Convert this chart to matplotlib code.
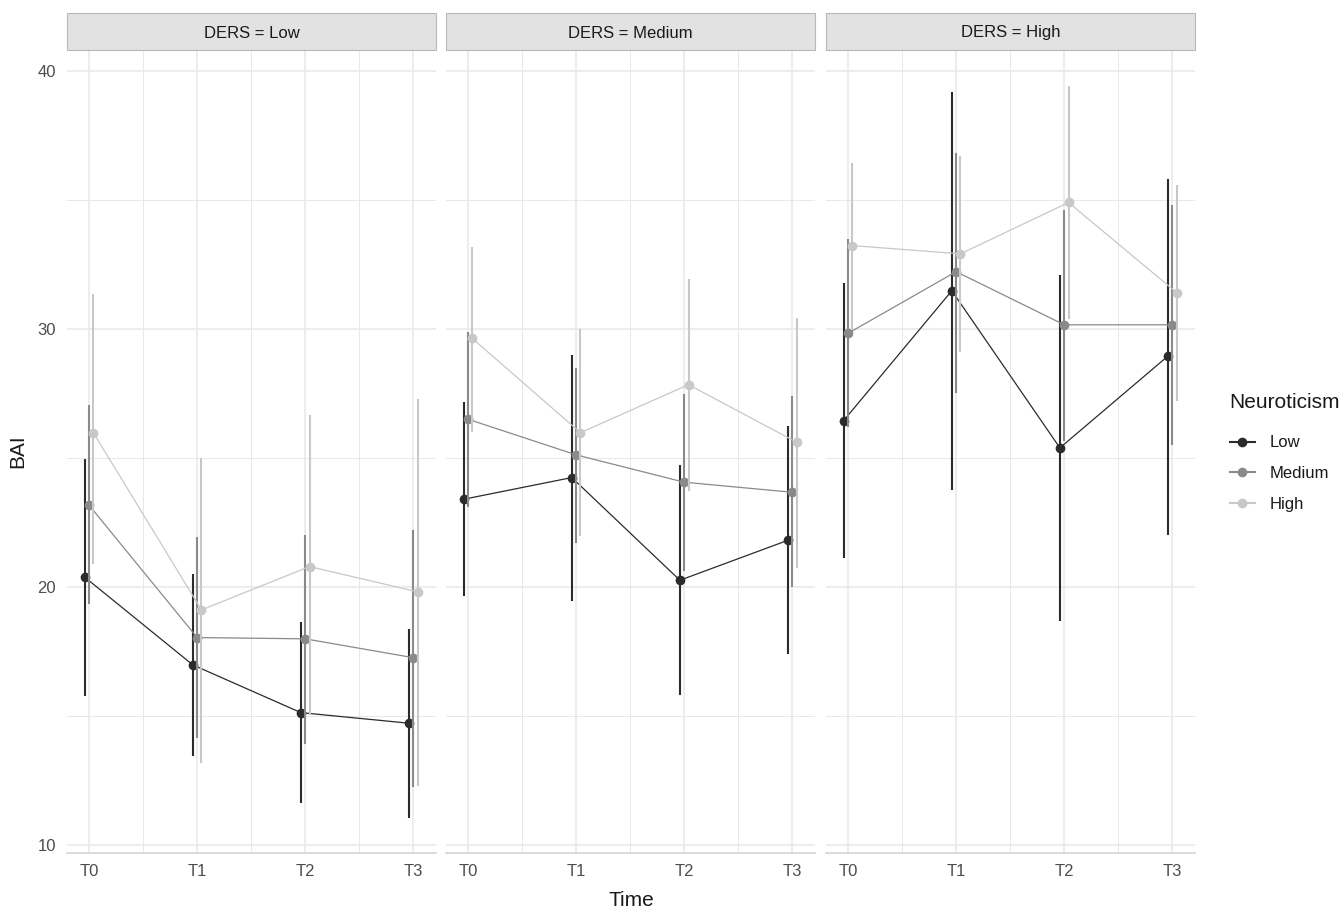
import numpy as np
import matplotlib
matplotlib.use("Agg")
import matplotlib.pyplot as plt
from matplotlib.lines import Line2D
from matplotlib.patches import Rectangle

plt.rcParams['font.family'] = ['Liberation Sans', 'DejaVu Sans']

# data (BAI means and CI bounds)
times = ["T0", "T1", "T2", "T3"]
ders_levels = ["Low", "Medium", "High"]
neuro_levels = ["Low", "Medium", "High"]

# DERS = Low
dl_low_mean = [20.38, 16.98, 15.13, 14.72]
dl_low_lo   = [15.78, 13.45, 11.64, 11.06]
dl_low_hi   = [24.94, 20.50, 18.64, 18.36]
dl_med_mean = [23.17, 18.04, 17.99, 17.26]
dl_med_lo   = [19.34, 14.13, 13.90, 12.26]
dl_med_hi   = [27.04, 21.92, 22.00, 22.21]
dl_high_mean = [25.98, 19.11, 20.79, 19.81]
dl_high_lo   = [20.90, 13.19, 15.04, 12.29]
dl_high_hi   = [31.36, 25.00, 26.65, 27.27]

# DERS = Medium
dm_low_mean = [23.40, 24.24, 20.26, 21.81]
dm_low_lo   = [19.65, 19.47, 15.81, 17.40]
dm_low_hi   = [27.15, 28.99, 24.73, 26.23]
dm_med_mean = [26.50, 25.12, 24.06, 23.67]
dm_med_lo   = [23.10, 21.69, 20.63, 20.01]
dm_med_hi   = [29.90, 28.49, 27.48, 27.41]
dm_high_mean = [29.63, 25.98, 27.84, 25.61]
dm_high_lo   = [26.02, 21.98, 23.70, 20.73]
dm_high_hi   = [33.16, 30.01, 31.93, 30.42]

# DERS = High
dh_low_mean = [26.45, 31.48, 25.39, 28.95]
dh_low_lo   = [21.11, 23.76, 18.69, 22.00]
dh_low_hi   = [31.79, 39.20, 32.09, 35.80]
dh_med_mean = [29.83, 32.22, 30.16, 30.16]
dh_med_lo   = [26.20, 27.53, 25.67, 25.50]
dh_med_hi   = [33.50, 36.81, 34.60, 34.81]
dh_high_mean = [33.23, 32.91, 34.90, 31.41]
dh_high_lo   = [29.96, 29.12, 30.38, 27.19]
dh_high_hi   = [36.45, 36.71, 39.40, 35.57]

panels = [
    [(dl_low_mean, dl_low_lo, dl_low_hi), (dl_med_mean, dl_med_lo, dl_med_hi), (dl_high_mean, dl_high_lo, dl_high_hi)],
    [(dm_low_mean, dm_low_lo, dm_low_hi), (dm_med_mean, dm_med_lo, dm_med_hi), (dm_high_mean, dm_high_lo, dm_high_hi)],
    [(dh_low_mean, dh_low_lo, dh_low_hi), (dh_med_mean, dh_med_lo, dh_med_hi), (dh_high_mean, dh_high_lo, dh_high_hi)],
]

colours = ["#2b2b2b", "#8a8a8a", "#c8c8c8"]
dodge = [-0.04, 0.0, 0.04]

W, H = 1344, 909
fig = plt.figure(figsize=(W / 100, H / 100), dpi=100)
fig.patch.set_facecolor("white")

# panel geometry in pixels
panel_left = [67, 446, 826]
panel_w = 369
panel_top, panel_bot = 50, 853
strip_top = 13

grid_col = "#e8e8e8"
x = np.arange(len(times))

for p in range(3):
    ax = fig.add_axes([panel_left[p] / W, 1 - panel_bot / H, panel_w / W, (panel_bot - panel_top) / H])
    ax.set_xlim(-0.204, 3.21)
    ax.set_ylim(9.69, 40.81)

    # grid
    for v in [15, 25, 35]:
        ax.axhline(v, color=grid_col, lw=0.7, zorder=0)
    for v in [10, 20, 30, 40]:
        ax.axhline(v, color=grid_col, lw=1.1, zorder=0)
    for v in [0.5, 1.5, 2.5]:
        ax.axvline(v, color=grid_col, lw=0.7, zorder=0)
    for v in x:
        ax.axvline(v, color=grid_col, lw=1.1, zorder=0)

    for g in range(3):
        mean, lo, hi = panels[p][g]
        xs = x + dodge[g]
        ax.vlines(xs, lo, hi, color=colours[g], lw=1.5, zorder=2 + g)
        ax.plot(xs, mean, color=colours[g], lw=0.9, zorder=2 + g)
        ax.plot(xs, mean, "o", color=colours[g], ms=7, mec="none", zorder=2 + g)

    for s in ["top", "left", "right"]:
        ax.spines[s].set_visible(False)
    ax.spines["bottom"].set_color("#d4d4d4")
    ax.spines["bottom"].set_linewidth(1.2)

    ax.set_xticks(x)
    ax.set_xticklabels(times)
    ax.set_yticks([10, 20, 30, 40])
    ax.tick_params(length=0, labelsize=12, labelcolor="#4d4d4d", pad=8)
    if p > 0:
        ax.set_yticklabels([])

    # strip
    fig.patches.append(Rectangle((panel_left[p] / W, 1 - panel_top / H), panel_w / W,
                                 (panel_top - strip_top) / H, transform=fig.transFigure,
                                 facecolor="#e2e2e2", edgecolor="#b8b8b8", lw=0.8))
    fig.text((panel_left[p] + panel_w / 2) / W, 1 - 33 / H,
             "DERS = " + ders_levels[p], ha="center", va="center", fontsize=12, color="#1a1a1a")

fig.text((67 + 1196) / 2 / W, 1 - 900 / H, "Time", ha="center", va="center", fontsize=15, color="#1a1a1a")
fig.text(18 / W, 1 - 451 / H, "BAI", ha="center", va="center", rotation=90, fontsize=15, color="#1a1a1a")

# legend
fig.text(1229 / W, 1 - 403 / H, "Neuroticism", ha="left", va="center", fontsize=15, color="#1a1a1a")
handles = [Line2D([0], [0], color=c, lw=1.5, marker="o", ms=7, mec="none") for c in colours]
leg = fig.legend(handles, neuro_levels, loc="upper left",
                 bbox_to_anchor=(1222 / W, 1 - 427 / H), frameon=False, fontsize=12,
                 handlelength=1.45, handletextpad=0.9, labelspacing=0.95, borderpad=0)
for t in leg.get_texts():
    t.set_color("#1a1a1a")

fig.savefig("out.png", dpi=100)
